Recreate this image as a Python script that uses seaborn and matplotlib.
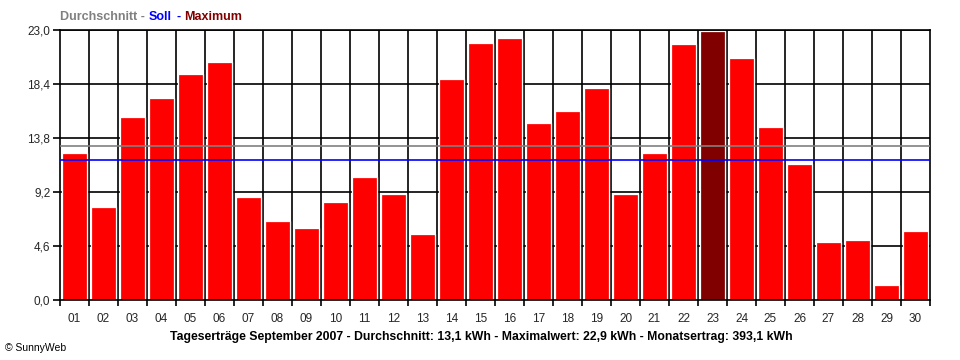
import numpy as np
import pandas as pd
import matplotlib
matplotlib.use('Agg')
import matplotlib.pyplot as plt
import seaborn as sns
from matplotlib.ticker import FixedLocator, FuncFormatter

# Tageserträge September 2007 (kWh)
days = [f'{i:02d}' for i in range(1, 31)]
ertrag = [12.5, 7.9, 15.6, 17.2, 19.25, 20.3, 8.8, 6.7, 6.1, 8.35,
          10.5, 9.0, 5.6, 18.8, 21.9, 22.3, 15.1, 16.1, 18.1, 9.0,
          12.5, 21.8, 22.9, 20.6, 14.7, 11.6, 4.9, 5.1, 1.3, 5.9]
durchschnitt = 13.1
soll = 11.9
summe = 393.1
y_ticks = [0.0, 4.6, 9.2, 13.8, 18.4, 23.0]

df = pd.DataFrame({'tag': days, 'kwh': ertrag})
max_tag = df.loc[df['kwh'].idxmax(), 'tag']
farben = {t: ('#800000' if t == max_tag else '#ff0000') for t in days}

sns.set_style('white')
plt.rcParams['font.family'] = ['Liberation Sans', 'DejaVu Sans']

fig = plt.figure(figsize=(9.6, 3.6), dpi=100)
ax = fig.add_axes([60 / 960, 1 - 300 / 360, 870 / 960, 270 / 360])

# Gitter hinter den Balken
for yv in y_ticks[1:]:
    ax.axhline(yv, color='black', lw=1.2, zorder=0)
for i in range(1, 30):
    ax.axvline(i - 0.5, color='black', lw=1.2, zorder=0)

sns.barplot(data=df, x='tag', y='kwh', hue='tag', palette=farben, legend=False,
            width=0.88, saturation=1, ax=ax, zorder=2,
            edgecolor='white', linewidth=0.9)

# Durchschnitt und Soll
ax.axhline(durchschnitt, color='#808080', lw=1.2, zorder=3)
ax.axhline(soll, color='#0000ff', lw=1.2, zorder=3)

ax.set_xlim(-0.5, 29.5)
ax.set_ylim(0, 23.0)
ax.set_xlabel('')
ax.set_ylabel('')

ax.set_yticks(y_ticks)
ax.yaxis.set_major_formatter(FuncFormatter(lambda v, p: f'{v:.1f}'.replace('.', ',')))
ax.xaxis.set_minor_locator(FixedLocator([i - 0.5 for i in range(0, 31)]))
ax.tick_params(axis='x', which='major', length=0, pad=9, labelsize=8.5)
ax.tick_params(axis='x', which='minor', length=4, width=1.2, direction='out', color='black')
ax.tick_params(axis='y', length=5, width=1.2, direction='out', labelsize=8.5, pad=2, color='black')
ax.tick_params(left=True, bottom=True, which='both')

for s in ax.spines.values():
    s.set_visible(True)
    s.set_color('black')
    s.set_linewidth(1.2)

# Legende oben links (farbiger Text)
kw = dict(fontsize=9, fontweight='bold', va='bottom', ha='left')
t1 = fig.text(60 / 960, 1 - 23 / 360, 'Durchschnitt -', color='#808080', **kw)
t2 = ax.annotate('Soll', xy=(1, 0), xycoords=t1, xytext=(3, 0),
                 textcoords='offset points', color='#0000ff', **kw)
t3 = ax.annotate('-', xy=(1, 0), xycoords=t2, xytext=(3, 0),
                 textcoords='offset points', color='#0000ff', **kw)
ax.annotate('Maximum', xy=(1, 0), xycoords=t3, xytext=(3, 0),
            textcoords='offset points', color='#800000', **kw)

fig.text(481 / 960, 1 - 337 / 360,
         f'Tageserträge September 2007 - Durchschnitt: {durchschnitt:.1f} kWh - '
         f'Maximalwert: {max(ertrag):.1f} kWh - Monatsertrag: {summe:.1f} kWh'.replace('.', ','),
         ha='center', va='center', fontsize=8.8, fontweight='bold', color='black')
fig.text(5 / 960, 1 - 348 / 360, '© SunnyWeb', ha='left', va='center', fontsize=7.5, color='black')

fig.savefig('out.png', dpi=100)
